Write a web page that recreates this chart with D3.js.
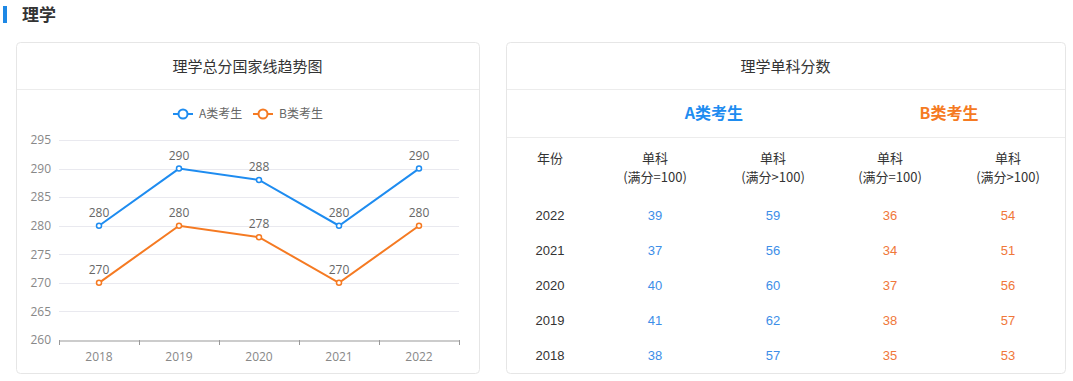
<!DOCTYPE html>
<html>
<head>
<meta charset="utf-8">
<script src="https://cdn.jsdelivr.net/npm/d3@7"></script>
<style>
  body { margin: 0; background: #fff; font-family: "Noto Sans CJK SC", "Noto Sans", sans-serif; }
  svg { display: block; }
</style>
</head>
<body>
<svg id="chart" width="1073" height="381"></svg>
<script>
// chart data
const years = ['2018', '2019', '2020', '2021', '2022'];
const seriesNames = ['A类考生', 'B类考生'];
const totalA = [280, 290, 288, 280, 290];
const totalB = [270, 280, 278, 270, 280];
const yTicks = [260, 265, 270, 275, 280, 285, 290, 295];

// table data (rows from newest to oldest)
const tableYears = ['2022', '2021', '2020', '2019', '2018'];
const aEq100 = [39, 37, 40, 41, 38];
const aGt100 = [59, 56, 60, 62, 57];
const bEq100 = [36, 34, 37, 38, 35];
const bGt100 = [54, 51, 56, 57, 53];
const colHeads = ['(满分=100)', '(满分>100)', '(满分=100)', '(满分>100)'];

const blue = '#1e8cf0';
const orange = '#f57a22';
const colors = [blue, orange];

const svg = d3.select('#chart');

// section header
svg.append('rect').attr('x', 3).attr('y', 6).attr('width', 4).attr('height', 17).attr('fill', '#1e88e5');
svg.append('text').attr('x', 22).attr('y', 21).attr('font-size', 17).attr('font-weight', 'bold')
  .attr('fill', '#333').text('理学');

// cards
function card(x, w, title) {
  svg.append('rect').attr('x', x + 0.5).attr('y', 42.5).attr('width', w).attr('height', 331)
    .attr('rx', 4).attr('fill', '#fff').attr('stroke', '#e6e6e6');
  svg.append('line').attr('x1', x + 1).attr('x2', x + w).attr('y1', 89.5).attr('y2', 89.5).attr('stroke', '#ececec');
  svg.append('text').attr('x', x + w / 2).attr('y', 71.5).attr('text-anchor', 'middle')
    .attr('font-size', 15).attr('fill', '#333').text(title);
}
card(16, 463, '理学总分国家线趋势图');
card(506, 559, '理学单科分数');

// line chart
const x = d3.scaleBand().domain(years).range([59, 459]);
const y = d3.scaleLinear().domain([260, 295]).range([340, 140]);

const g = svg.append('g');

g.selectAll('line.grid').data(yTicks.slice(1)).join('line')
  .attr('class', 'grid')
  .attr('x1', 59).attr('x2', 459)
  .attr('y1', d => Math.round(y(d)) + 0.5).attr('y2', d => Math.round(y(d)) + 0.5)
  .attr('stroke', '#e9e9ef');

const yAxis = g.append('g').attr('transform', 'translate(59,0)')
  .call(d3.axisLeft(y).tickValues(yTicks).tickSize(0).tickPadding(8));
yAxis.select('.domain').remove();
yAxis.selectAll('text').attr('fill', '#888').attr('font-size', 12).attr('font-family', '"Open Sans", sans-serif');

const xAxis = g.append('g').attr('transform', 'translate(0,340.5)')
  .call(d3.axisBottom(x).tickSize(0).tickPadding(12));
xAxis.select('.domain').attr('stroke', '#999');
xAxis.selectAll('text').attr('fill', '#888').attr('font-size', 12).attr('font-family', '"Open Sans", sans-serif');
g.selectAll('line.xtick').data(d3.range(years.length + 1)).join('line')
  .attr('class', 'xtick')
  .attr('x1', i => Math.round(59 + i * x.step()) + 0.5).attr('x2', i => Math.round(59 + i * x.step()) + 0.5)
  .attr('y1', 340).attr('y2', 345).attr('stroke', '#999');

const line = d3.line().x((d, i) => x(years[i]) + x.bandwidth() / 2).y(d => y(d));

[totalA, totalB].forEach((vals, si) => {
  g.append('path').datum(vals).attr('d', line)
    .attr('fill', 'none').attr('stroke', colors[si]).attr('stroke-width', 2);
  g.selectAll('circle.p' + si).data(vals).join('circle')
    .attr('class', 'p' + si)
    .attr('cx', (d, i) => x(years[i]) + x.bandwidth() / 2).attr('cy', d => y(d))
    .attr('r', 2.5).attr('fill', '#fff').attr('stroke', colors[si]).attr('stroke-width', 1.5);
  g.selectAll('text.l' + si).data(vals).join('text')
    .attr('class', 'l' + si)
    .attr('x', (d, i) => x(years[i]) + x.bandwidth() / 2).attr('y', d => y(d) - 9)
    .attr('text-anchor', 'middle').attr('font-size', 12).attr('fill', '#666')
    .attr('font-family', '"Open Sans", sans-serif')
    .text(d => d);
});

// legend
const legendX = [173, 253];
seriesNames.forEach((name, i) => {
  const lg = svg.append('g').attr('transform', `translate(${legendX[i]},114)`);
  lg.append('line').attr('x1', 0).attr('x2', 20).attr('stroke', colors[i]).attr('stroke-width', 2);
  lg.append('circle').attr('cx', 10).attr('r', 4.5).attr('fill', '#fff').attr('stroke', colors[i]).attr('stroke-width', 2);
  lg.append('text').attr('x', 26).attr('y', 4).attr('font-size', 12).attr('fill', '#666').text(name);
});

// table
const colX = [550, 655, 773, 890, 1008];
const groupX = [(colX[1] + colX[2]) / 2, (colX[3] + colX[4]) / 2];
const tg = svg.append('g').attr('font-size', 13);

seriesNames.forEach((name, i) => {
  tg.append('text').attr('x', groupX[i]).attr('y', 119).attr('text-anchor', 'middle')
    .attr('font-size', 16).attr('font-weight', 'bold').attr('fill', colors[i]).text(name);
});
svg.append('line').attr('x1', 507).attr('x2', 1065).attr('y1', 137.5).attr('y2', 137.5).attr('stroke', '#ececec');

tg.append('text').attr('x', colX[0]).attr('y', 163).attr('text-anchor', 'middle').attr('fill', '#333').text('年份');
colHeads.forEach((h, i) => {
  tg.append('text').attr('x', colX[i + 1]).attr('y', 163).attr('text-anchor', 'middle').attr('fill', '#333').text('单科');
  tg.append('text').attr('x', colX[i + 1]).attr('y', 182).attr('text-anchor', 'middle').attr('fill', '#333').text(h);
});

const rowY = d3.scalePoint().domain(tableYears).range([215, 355]);
const valueCols = [aEq100, aGt100, bEq100, bGt100];
const valueColors = ['#3d8ee8', '#3d8ee8', '#f0773a', '#f0773a'];

tg.selectAll('text.year').data(tableYears).join('text')
  .attr('class', 'year')
  .attr('x', colX[0]).attr('y', d => rowY(d) + 5).attr('text-anchor', 'middle')
  .attr('fill', '#333').attr('font-family', '"Liberation Sans", sans-serif').text(d => d);

valueCols.forEach((vals, ci) => {
  tg.selectAll('text.v' + ci).data(vals).join('text')
    .attr('class', 'v' + ci)
    .attr('x', colX[ci + 1]).attr('y', (d, i) => rowY(tableYears[i]) + 5).attr('text-anchor', 'middle')
    .attr('fill', valueColors[ci]).attr('font-family', '"Liberation Sans", sans-serif').text(d => d);
});
</script>
</body>
</html>
